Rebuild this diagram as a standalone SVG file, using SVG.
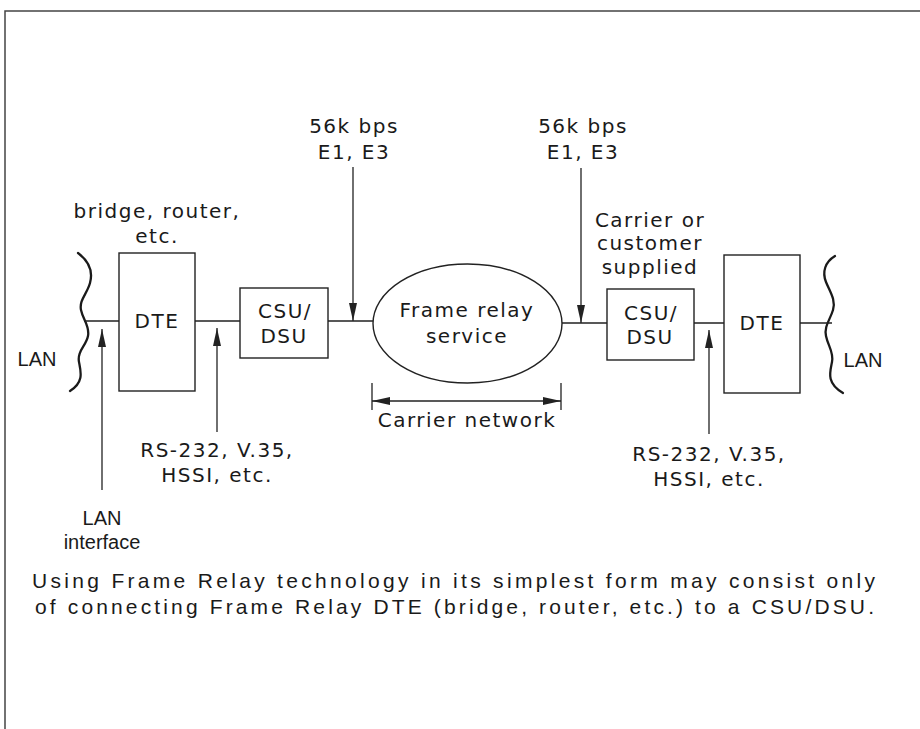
<svg xmlns="http://www.w3.org/2000/svg" width="920" height="729" viewBox="0 0 920 729">
<style>
.ln{stroke:#222;stroke-width:1.3;fill:none}
.box{stroke:#222;stroke-width:1.4;fill:#fff}
.wave{stroke:#1a1a1a;stroke-width:2.3;fill:none;stroke-linecap:round}
.t{font-family:"DejaVu Sans",sans-serif;font-size:20px;letter-spacing:1.5px;fill:#1a1a1a;text-anchor:middle}
.c{font-family:"Liberation Sans",sans-serif;font-size:21px;fill:#1a1a1a}
.cm{font-family:"Liberation Sans",sans-serif;font-size:20px;fill:#1a1a1a;text-anchor:middle}
</style>
<defs>
<marker id="ah" viewBox="0 0 18 8" refX="18" refY="4" markerWidth="18" markerHeight="8" orient="auto-start-reverse" markerUnits="userSpaceOnUse"><path d="M0,0 L18,4 L0,8 z" fill="#222"/></marker>
</defs>
<rect width="920" height="729" fill="#fff"/>
<path d="M5,729 V11 H920" stroke="#444" stroke-width="1.5" fill="none"/>

<g id="lan-left">
<path class="wave" d="M78,253 C90,262 93,272 90,283 C87,294 79,300 81,310 C83,320 90,326 88,336 C86,346 77,351 79,362 C81,372 84,382 70,391"/>
<text class="cm" x="37" y="366">LAN</text>
</g>
<g id="dte-left">
<rect class="box" x="119" y="253" width="76" height="138"/>
<text class="t" x="157" y="328">DTE</text>
</g>
<g id="csu-left">
<rect class="box" x="240" y="288" width="88" height="70"/>
<text class="t" x="285" y="318">CSU/</text>
<text class="t" x="284" y="343">DSU</text>
</g>
<g id="frame-relay">
<ellipse class="box" cx="467.5" cy="323.5" rx="94.5" ry="59.5"/>
<text class="t" x="467" y="317">Frame relay</text>
<text class="t" x="467" y="343">service</text>
</g>
<g id="csu-right">
<rect class="box" x="607" y="289" width="87" height="71"/>
<text class="t" x="651" y="320">CSU/</text>
<text class="t" x="650" y="344">DSU</text>
</g>
<g id="dte-right">
<rect class="box" x="724" y="255" width="76" height="138"/>
<text class="t" x="762" y="330">DTE</text>
</g>
<g id="lan-right">
<path class="wave" d="M835,256 C825,262 822,272 826,282 C830,292 836,300 833,310 C830,320 824,326 826,336 C828,346 834,352 832,362 C830,372 826,383 843,393"/>
<text class="cm" x="863" y="367">LAN</text>
</g>

<g id="connectors">
<path class="ln" d="M84,321 H119 M195,321 H240 M328,321 H373 M562,323 H607 M694,323 H724 M800,323 H832"/>
<line class="ln" x1="353" y1="167" x2="353" y2="321" marker-end="url(#ah)"/>
<line class="ln" x1="581" y1="168" x2="581" y2="323" marker-end="url(#ah)"/>
<line class="ln" x1="102" y1="490" x2="102" y2="329" marker-end="url(#ah)"/>
<line class="ln" x1="217" y1="432" x2="217" y2="328" marker-end="url(#ah)"/>
<line class="ln" x1="709" y1="434" x2="709" y2="330" marker-end="url(#ah)"/>
<path class="ln" d="M372,383 V410 M561,383 V410"/>
<line class="ln" x1="372" y1="401" x2="561" y2="401" marker-start="url(#ah)" marker-end="url(#ah)"/>
</g>

<g id="labels">
<text class="t" x="354" y="133">56k bps</text>
<text class="t" x="354" y="159">E1, E3</text>
<text class="t" x="583" y="133">56k bps</text>
<text class="t" x="583" y="159">E1, E3</text>
<text class="t" x="157" y="218">bridge, router,</text>
<text class="t" x="157" y="243">etc.</text>
<text class="t" x="650" y="227">Carrier or</text>
<text class="t" x="650" y="250">customer</text>
<text class="t" x="650" y="274">supplied</text>
<text class="t" x="467" y="427">Carrier network</text>
<text class="t" x="217" y="457">RS-232, V.35,</text>
<text class="t" x="217" y="482">HSSI, etc.</text>
<text class="t" x="709" y="461">RS-232, V.35,</text>
<text class="t" x="709" y="486">HSSI, etc.</text>
<text class="cm" x="102" y="525">LAN</text>
<text class="cm" x="102" y="549">interface</text>
<text class="c" x="32" y="588" textLength="843" lengthAdjust="spacing">Using Frame Relay technology in its simplest form may consist only</text>
<text class="c" x="35" y="614" textLength="839" lengthAdjust="spacing">of connecting Frame Relay DTE (bridge, router, etc.) to a CSU/DSU.</text>
</g>
</svg>
